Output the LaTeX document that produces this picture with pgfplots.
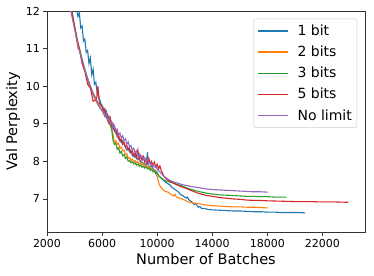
\documentclass[border=0pt]{standalone}
\usepackage{fontspec}
\setmainfont{DejaVu Sans}
\usepackage{pgfplots}
\pgfplotsset{compat=1.18}
\usetikzlibrary{calc}
\definecolor{c1}{HTML}{1F77B4}
\definecolor{c2}{HTML}{FF7F0E}
\definecolor{c3}{HTML}{2CA02C}
\definecolor{c4}{HTML}{D62728}
\definecolor{c5}{HTML}{9467BD}
\begin{document}
\begin{tikzpicture}
\begin{axis}[name=ax,
  scale only axis, width=318pt, height=221pt,
  xmin=2000, xmax=25100, ymin=6.12, ymax=12,
  xtick={2000,6000,10000,14000,18000,22000},
  ytick={7,8,9,10,11,12},
  scaled x ticks=false,
  /pgf/number format/1000 sep={},
  /pgf/number format/assume math mode=true,
  tick label style={font=\fontsize{11}{13}\selectfont},
  label style={font=\fontsize{14.5}{17}\selectfont},
  xlabel={Number of Batches}, ylabel={Val Perplexity},
  xlabel style={yshift=1pt},
  ylabel style={yshift=-1pt},
  axis line style={black!80},
  tick align=outside, tick pos=left,
  major tick length=3.5pt,
  every tick/.style={black!80, line width=0.6pt},
  legend style={at={(0.975,0.965)}, anchor=north east, draw=black!20, rounded corners=2pt,
    font=\fontsize{14}{16}\selectfont, row sep=5pt, inner xsep=3pt, inner ysep=4pt},
  legend cell align=left,
  legend image code/.code={\draw[#1, line width=1.5pt] (0pt,0pt) -- (30pt,0pt);\path[draw=none] (38pt,0pt);},
  every axis plot/.append style={line width=1.1pt},
]
\addplot[c1] coordinates {
(4100,12.3)(4150,12.05)(4250,11.85)(4350,11.95)(4450,11.55)(4550,11.6)(4650,11.2)(4750,11.25)
(4850,10.9)(4950,10.95)(5050,10.6)(5150,10.75)(5250,10.3)(5350,10.45)(5450,10.05)(5550,10.1)
(5650,9.8)(5750,9.75)(5900,9.55)(6050,9.45)(6200,9.3)(6300,9.35)(6400,9.15)(6500,9.2)(6600,9.0)(6700,9.05)(6800,8.85)
(6900,8.9)(7000,8.75)(7100,8.8)(7200,8.6)(7400,8.5)(7500,8.55)(7600,8.45)(7800,8.3)(7900,8.35)(8000,8.25)
(8100,8.28)(8200,8.15)(8300,8.2)(8400,8.1)(8500,8.13)
(8600,8.05)(8700,8.08)(8800,7.98)(9000,7.95)(9200,7.9)(9300,8.25)(9350,7.88)(9500,7.85)(9600,7.88)(9700,7.8)
(9900,7.75)(10100,7.62)(10300,7.55)(10500,7.48)(10700,7.42)(10900,7.38)(11100,7.3)
(11300,7.25)(11500,7.2)(11700,7.12)(11900,7.08)(12100,7.02)(12200,7.05)(12300,6.98)(12500,6.93)
(12700,6.85)(12800,6.88)(12900,6.82)(13000,6.78)(13100,6.8)(13250,6.74)(13400,6.75)(13700,6.72)(14000,6.71)(14500,6.7)
(15000,6.69)(15500,6.68)(16000,6.68)(16500,6.67)(17000,6.66)(17500,6.66)(18000,6.65)
(18500,6.65)(19000,6.64)(19500,6.64)(20000,6.64)(20750,6.63)
};
\addlegendentry{1 bit}
\addplot[c2] coordinates {
(3700,12.3)(3780,12.0)(3900,11.75)(4000,11.6)(4100,11.35)(4250,11.0)(4400,10.95)(4500,10.75)
(4650,10.5)(4800,10.35)(5000,10.1)(5150,9.95)(5300,9.8)(5500,9.65)(5700,9.5)(6000,9.35)
(6200,9.2)(6300,9.25)(6400,9.08)(6500,9.0)(6600,9.05)(6700,8.85)(6800,8.7)(6900,8.5)(7000,8.55)(7100,8.45)(7200,8.48)
(7300,8.35)(7400,8.38)(7500,8.28)(7600,8.3)(7700,8.18)(7800,8.2)(7900,8.08)(8000,8.1)(8100,8.02)(8200,8.06)
(8300,7.98)(8400,8.02)(8500,7.96)(8600,7.99)(8700,7.93)(8800,7.96)(8900,7.9)(9000,7.93)(9100,7.86)(9200,7.89)
(9300,7.82)(9400,7.86)(9500,7.8)(9600,7.82)(9700,7.75)(9800,7.77)(9900,7.68)(10000,7.6)(10100,7.45)(10200,7.35)(10400,7.25)(10600,7.2)
(10800,7.18)(11000,7.12)(11200,7.08)(11300,7.12)(11400,7.05)(11600,7.02)(11800,7.0)(12000,6.97)
(12200,6.93)(12500,6.9)(12800,6.88)(13100,6.87)(13500,6.84)(14000,6.82)(14500,6.81)
(15000,6.8)(15500,6.79)(16000,6.79)(16500,6.78)(17000,6.78)(17500,6.77)(18050,6.76)
};
\addlegendentry{2 bits}
\addplot[c3] coordinates {
(3700,12.3)(3800,12.05)(4000,11.6)(4250,11.15)(4500,10.8)(4750,10.45)(5000,10.15)
(5250,9.9)(5500,9.7)(5750,9.5)(6000,9.35)(6250,9.2)(6500,9.05)(6700,8.85)(6800,8.55)(6900,8.45)
(7000,8.48)(7100,8.32)(7200,8.36)(7300,8.22)(7400,8.26)(7500,8.15)(7600,8.18)(7700,8.08)(7800,8.12)(7900,8.0)
(8000,8.02)(8100,7.96)(8200,7.99)(8300,7.93)(8400,7.96)(8500,7.9)(8600,7.93)(8700,7.87)(8800,7.9)(8900,7.84)
(9000,7.87)(9100,7.82)(9200,7.85)(9300,7.8)(9400,7.82)(9500,7.76)(9600,7.78)(9700,7.72)(9800,7.74)(9900,7.68)
(10000,7.7)(10100,7.62)
(10300,7.56)(10500,7.5)(10700,7.47)(10900,7.45)(11200,7.42)(11500,7.38)(11800,7.35)
(12100,7.3)(12500,7.25)(13000,7.2)(13500,7.16)(14000,7.13)(14500,7.11)(15000,7.1)
(15500,7.09)(16000,7.08)(16500,7.07)(17000,7.07)(17500,7.06)(18000,7.06)(18500,7.05)
(19000,7.05)(19400,7.05)
};
\addlegendentry{3 bits}
\addplot[c4] coordinates {
(3650,12.3)(3750,12.05)(3950,11.7)(4150,11.3)(4350,11.0)(4550,10.6)(4750,10.4)(4950,10.05)
(5150,9.95)(5350,9.6)(5600,9.65)(5700,10.0)(5800,9.55)
(6000,9.45)(6100,9.35)(6200,9.4)(6300,9.2)(6400,9.25)(6500,9.05)(6600,9.15)(6700,8.95)(6800,9.0)(6900,8.8)
(7000,8.85)(7100,8.65)(7200,8.7)(7300,8.55)(7400,8.6)(7500,8.45)(7600,8.5)(7700,8.38)(7800,8.42)(7900,8.3)
(8000,8.35)(8100,8.22)(8200,8.28)(8300,8.15)(8400,8.22)(8500,8.1)(8600,8.3)(8700,8.05)(8800,8.15)(8900,8.02)
(9000,8.12)(9100,7.98)(9200,8.05)(9300,7.95)(9400,8.08)(9500,7.92)(9600,8.0)(9700,7.88)(9800,7.98)(9900,7.85)
(10000,7.92)(10100,7.8)(10200,7.88)(10300,7.75)(10400,7.68)(10500,7.6)
(10700,7.52)(10900,7.47)
(11200,7.42)(11500,7.36)(11800,7.32)(12100,7.28)(12500,7.22)(13000,7.15)(13500,7.1)
(14000,7.07)(14500,7.04)(15000,7.02)(15500,7.0)(16000,6.99)(16500,6.97)(17000,6.96)
(17500,6.96)(18000,6.95)(19000,6.94)(20000,6.93)(21000,6.93)(22000,6.92)(23000,6.92)
(23900,6.91)
};
\addlegendentry{5 bits}
\addplot[c5] coordinates {
(3600,12.3)(3700,12.05)(3900,11.7)(4100,11.35)(4300,11.0)(4500,10.75)(4700,10.5)(4900,10.25)
(5100,10.05)(5300,9.85)(5500,9.7)(5700,9.55)(5900,9.4)
(6100,9.3)(6200,9.2)(6300,9.28)(6400,9.1)(6500,9.15)(6600,8.98)(6700,9.05)(6800,8.9)(6900,8.95)(7000,8.8)
(7100,8.85)(7200,8.7)(7300,8.75)(7400,8.62)(7500,8.68)(7600,8.55)(7700,8.6)(7800,8.45)(7900,8.52)(8000,8.38)
(8100,8.42)(8200,8.3)(8300,8.35)(8400,8.22)(8500,8.28)(8600,8.15)(8700,8.2)(8800,8.1)(8900,8.15)(9000,8.05)
(9100,8.1)(9200,8.0)(9300,8.05)(9400,7.95)(9500,7.98)(9600,7.9)(9700,7.92)(9800,7.85)(9900,7.87)(10000,7.8)
(10100,7.75)(10300,7.68)(10500,7.6)(10700,7.55)(10900,7.5)(11200,7.45)
(11500,7.42)(11800,7.38)(12100,7.36)(12500,7.33)(13000,7.3)(13500,7.27)(14000,7.25)
(14500,7.24)(15000,7.23)(15500,7.22)(16000,7.21)(16500,7.2)(17000,7.19)(17500,7.19)
(18050,7.18)
};
\addlegendentry{No limit}
\end{axis}
\pgfresetboundingbox
\path ($(ax.south west)+(-47pt,-43pt)$) rectangle ($(ax.north east)+(9pt,11pt)$);
\end{tikzpicture}
\end{document}
